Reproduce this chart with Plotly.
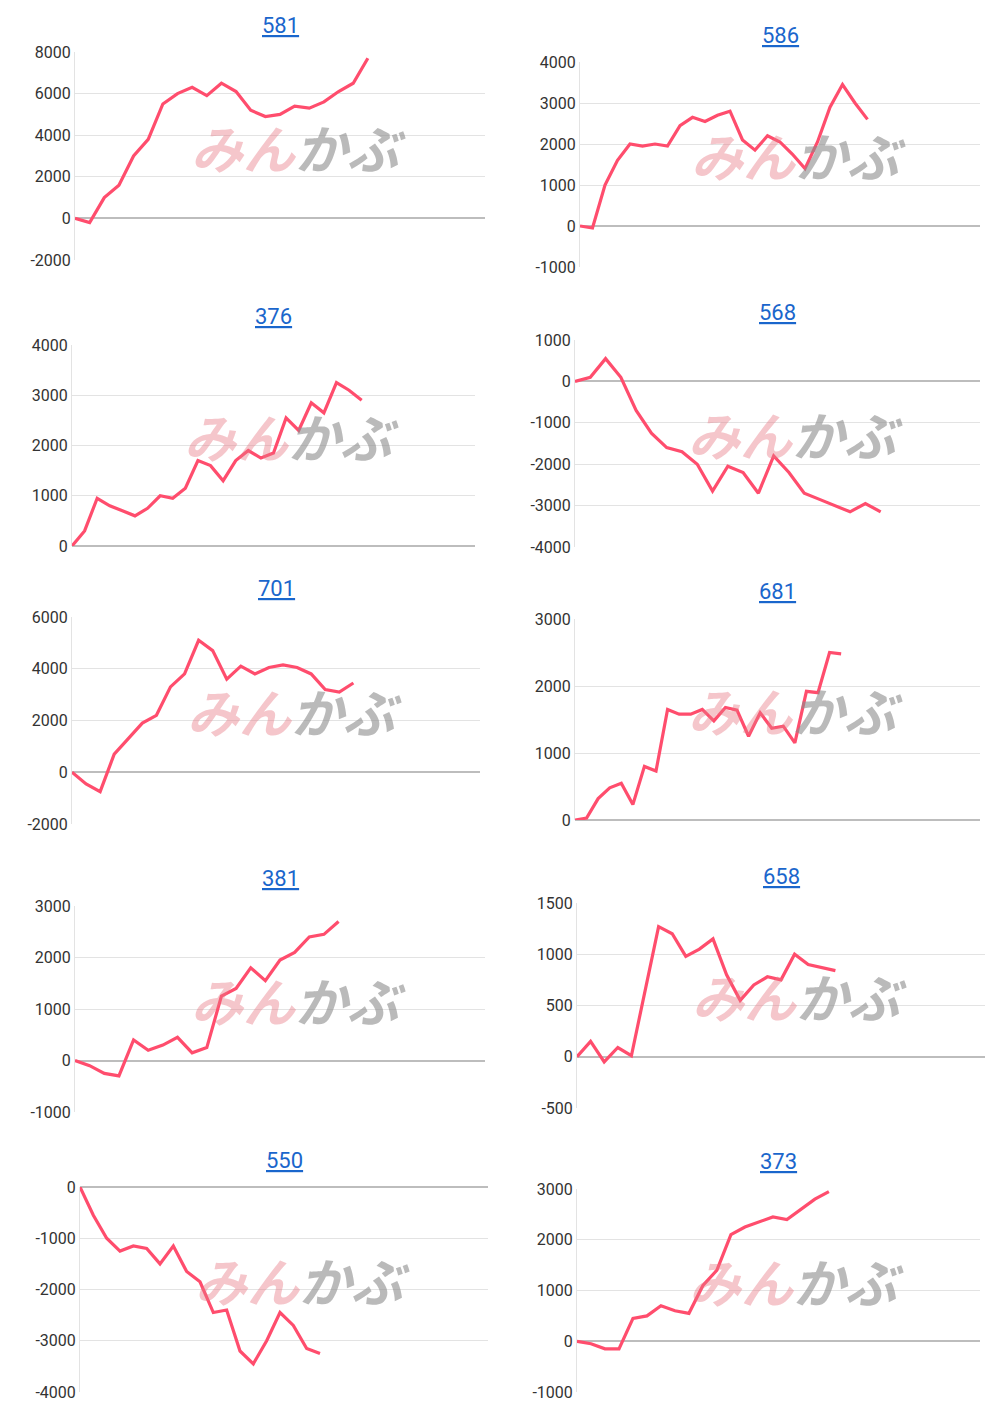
import plotly.graph_objects as go

W, H = 1000, 1414
OFF = 8  # page margin of the browser

# one list per chart
p581 = [0, -200, 1000, 1600, 3000, 3800, 5500, 6000, 6300, 5900, 6500, 6100, 5200, 4900, 5000, 5400, 5300, 5600, 6100, 6500, 7700]
p586 = [0, -50, 1000, 1600, 2000, 1950, 2000, 1950, 2450, 2650, 2550, 2700, 2800, 2100, 1850, 2200, 2050, 1750, 1400, 2050, 2900, 3450, 3000, 2600]
p376 = [0, 300, 950, 800, 700, 600, 750, 1000, 950, 1150, 1700, 1600, 1300, 1700, 1900, 1750, 1850, 2550, 2300, 2850, 2650, 3250, 3100, 2900]
p568 = [0, 100, 550, 100, -700, -1250, -1600, -1700, -2000, -2650, -2050, -2200, -2700, -1800, -2200, -2700, -2850, -3000, -3150, -2950, -3150]
p701 = [0, -450, -750, 700, 1300, 1900, 2200, 3300, 3800, 5100, 4700, 3600, 4100, 3800, 4050, 4150, 4050, 3800, 3200, 3100, 3450]
p681 = [0, 30, 320, 480, 550, 230, 800, 730, 1650, 1580, 1580, 1650, 1480, 1680, 1640, 1250, 1600, 1370, 1400, 1150, 1920, 1900, 2500, 2480]
p381 = [0, -100, -250, -300, 400, 200, 300, 450, 150, 250, 1250, 1400, 1800, 1550, 1950, 2100, 2400, 2450, 2700]
p658 = [0, 150, -50, 90, 10, 650, 1270, 1200, 980, 1050, 1150, 800, 550, 700, 780, 750, 1000, 900, 870, 840]
p550 = [0, -550, -1000, -1250, -1150, -1200, -1500, -1150, -1650, -1850, -2450, -2400, -3200, -3450, -3000, -2450, -2700, -3150, -3250]
p373 = [0, -50, -150, -150, 450, 500, 700, 600, 550, 1100, 1400, 2100, 2250, 2350, 2450, 2400, 2600, 2800, 2950]

titles = ["581", "586", "376", "568", "701", "681", "381", "658", "550", "373"]
series = [p581, p586, p376, p568, p701, p681, p381, p658, p550, p373]
yranges = [(-2000, 8000, 2000), (-1000, 4000, 1000), (0, 4000, 1000), (-4000, 1000, 1000), (-2000, 6000, 2000),
           (0, 3000, 1000), (-1000, 3000, 1000), (-500, 1500, 500), (-4000, 0, 1000), (-1000, 3000, 1000)]
xmax = [28, 32, 32, 26.5, 29, 35, 28, 30, 30.6, 28.8]

# panel boxes in pixels: x0, x1, top, bottom, title y
boxes = [(75, 485, 52, 260, 25), (580, 980, 62, 267, 35),
         (72, 475, 345, 546, 317), (575, 980, 340, 547, 312),
         (72, 480, 617, 824, 589), (575, 980, 619, 820, 591),
         (75, 485, 906, 1112, 878), (577, 985, 903, 1108, 876),
         (80, 488, 1187, 1392, 1160), (577, 980, 1189, 1392, 1161)]

fig = go.Figure()
ann = []
for i, (t, vals, yr, xm, b) in enumerate(zip(titles, series, yranges, xmax, boxes)):
    n = i + 1
    sfx = "" if n == 1 else str(n)
    x0, x1, top, bot, ty = [v - OFF for v in b]
    fig.add_trace(go.Scatter(x=list(range(len(vals))), y=vals, mode="lines",
                             line=dict(color="#ff4d6d", width=3.2),
                             xaxis="x" + sfx, yaxis="y" + sfx, showlegend=False))
    fig.layout["xaxis" + sfx] = dict(domain=[x0 / W, x1 / W], range=[0, xm], anchor="y" + sfx,
                                     showgrid=False, showticklabels=False, zeroline=False,
                                     showline=False, ticks="")
    lo, hi, st = yr
    tv = list(range(lo, hi + 1, st))
    fig.layout["yaxis" + sfx] = dict(domain=[1 - bot / H, 1 - top / H], range=[lo, hi], anchor="x" + sfx,
                                     tickvals=tv, ticktext=[str(v) for v in tv], gridcolor="#e3e3e3",
                                     zeroline=True, zerolinecolor="#bdbdbd", zerolinewidth=1.5,
                                     showline=True, linecolor="#e3e3e3", ticks="",
                                     tickfont=dict(size=16, color="#333"))
    ann.append(dict(text="<u>" + t + "</u>", x=(x0 + x1) / 2 / W, y=1 - ty / H, xref="paper", yref="paper",
                    xanchor="center", yanchor="middle",
                    showarrow=False, font=dict(size=22, color="#1a66cc")))
    cx = ((x0 + x1) / 2 + 18) / W
    cy = 1 - ((top + bot) / 2 - 10) / H
    ann.append(dict(text="<b><i><span style='color:rgba(232,120,130,0.42)'>みん</span>"
                         "<span style='color:rgba(140,140,140,0.6)'>かぶ</span></i></b>",
                    x=cx, y=cy, xref="paper", yref="paper", showarrow=False,
                    xanchor="center", yanchor="middle",
                    font=dict(size=52, family="Noto Sans CJK JP")))

fig.update_layout(width=W, height=H, margin=dict(l=0, r=0, t=0, b=0, autoexpand=False), annotations=ann,
                  plot_bgcolor="white", paper_bgcolor="white", font=dict(family="Roboto"))
fig.write_html("out.html")
